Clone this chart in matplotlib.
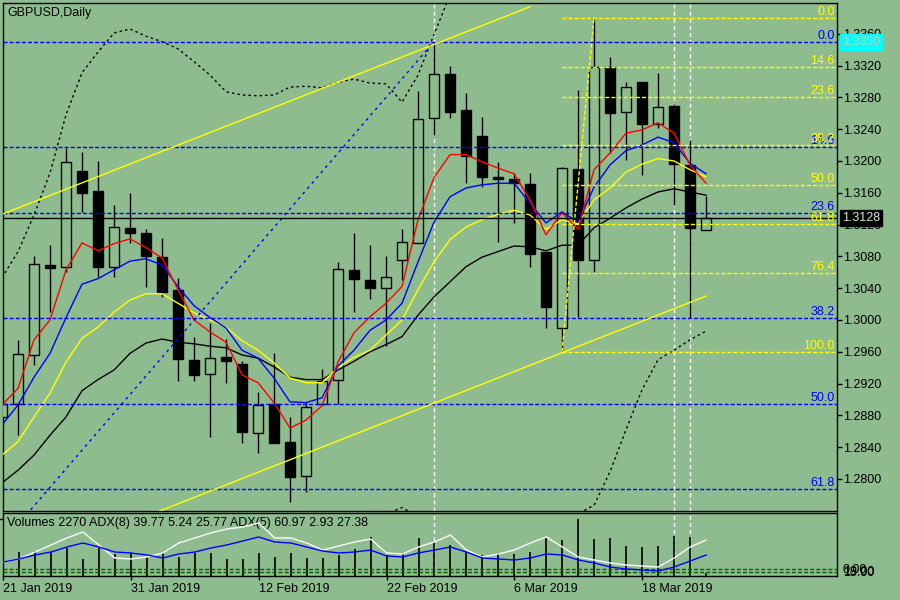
import numpy as np
import matplotlib
matplotlib.use('Agg')
import matplotlib.pyplot as plt

plt.rcParams['font.family'] = ['Liberation Sans', 'DejaVu Sans']
plt.rcParams['font.size'] = 9
plt.rcParams['lines.scale_dashes'] = False

bg = '#8fbc8f'

# daily candles, 21 Jan 2019 .. 22 Mar 2019
opens = [1.2878, 1.2894, 1.2956, 1.3069, 1.3067, 1.3187, 1.3162, 1.3067, 1.3116, 1.3109,
         1.3079, 1.3038, 1.2950, 1.2932, 1.2953, 1.2945, 1.2858, 1.2894, 1.2846, 1.2804,
         1.2894, 1.2925, 1.3063, 1.3050, 1.3040, 1.3075, 1.3097, 1.3254, 1.3309, 1.3264,
         1.3231, 1.3180, 1.3177, 1.3171, 1.3086, 1.2990, 1.3190, 1.3075, 1.3318, 1.3262,
         1.3299, 1.3247, 1.3269, 1.3195, 1.3113]
highs = [1.2902, 1.2975, 1.3081, 1.3094, 1.3216, 1.3211, 1.3200, 1.3145, 1.3160, 1.3114,
         1.3103, 1.3053, 1.2979, 1.2996, 1.2976, 1.2948, 1.2909, 1.2958, 1.2878, 1.2897,
         1.2938, 1.3073, 1.3109, 1.3094, 1.3081, 1.3114, 1.3288, 1.3350, 1.3320, 1.3286,
         1.3255, 1.3199, 1.3185, 1.3185, 1.3086, 1.3192, 1.3289, 1.3380, 1.3331, 1.3299,
         1.3299, 1.3311, 1.3272, 1.3226, 1.3156]
lows = [1.2862, 1.2855, 1.2943, 1.3010, 1.3060, 1.3136, 1.3054, 1.3054, 1.3097, 1.3042,
        1.3029, 1.2923, 1.2923, 1.2853, 1.2921, 1.2845, 1.2833, 1.2845, 1.2771, 1.2784,
        1.2894, 1.2894, 1.3010, 1.3026, 1.2967, 1.3050, 1.3097, 1.3233, 1.3254, 1.3172,
        1.3167, 1.3098, 1.3122, 1.3067, 1.2990, 1.2960, 1.3004, 1.3060, 1.3210, 1.3201,
        1.3182, 1.3242, 1.3145, 1.3003, 1.3113]
closes = [1.2894, 1.2957, 1.3070, 1.3065, 1.3199, 1.3160, 1.3067, 1.3117, 1.3109, 1.3081,
          1.3035, 1.2951, 1.2931, 1.2952, 1.2948, 1.2859, 1.2893, 1.2845, 1.2802, 1.2891,
          1.2923, 1.3064, 1.3052, 1.3040, 1.3054, 1.3098, 1.3253, 1.3309, 1.3262, 1.3206,
          1.3180, 1.3177, 1.3172, 1.3083, 1.3016, 1.3191, 1.3075, 1.3318, 1.3260, 1.3293,
          1.3247, 1.3268, 1.3196, 1.3116, 1.3128]

# moving averages
ma_red = [1.2893, 1.2914, 1.2975, 1.3000, 1.3063, 1.3097, 1.3087, 1.3096, 1.3102, 1.3091,
          1.3078, 1.3038, 1.3000, 1.2985, 1.2972, 1.2931, 1.2921, 1.2896, 1.2864, 1.2874,
          1.2892, 1.2947, 1.2984, 1.3004, 1.3021, 1.3042, 1.3126, 1.3179, 1.3208, 1.3208,
          1.3199, 1.3191, 1.3184, 1.3151, 1.3107, 1.3135, 1.3114, 1.3189, 1.3210, 1.3235,
          1.3239, 1.3248, 1.3235, 1.3195, 1.3172]
ma_blue = [1.2868, 1.2893, 1.2928, 1.2958, 1.3003, 1.3045, 1.3052, 1.3063, 1.3074, 1.3077,
           1.3069, 1.3042, 1.3018, 1.3003, 1.2990, 1.2962, 1.2952, 1.2927, 1.2897, 1.2896,
           1.2902, 1.2942, 1.2962, 1.2987, 1.3000, 1.3021, 1.3073, 1.3123, 1.3155, 1.3166,
           1.3170, 1.3172, 1.3172, 1.3147, 1.3122, 1.3136, 1.3123, 1.3167, 1.3195, 1.3213,
           1.3220, 1.3230, 1.3223, 1.3197, 1.3184]
ma_yellow = [1.2830, 1.2847, 1.2878, 1.2908, 1.2947, 1.2977, 1.2991, 1.3010, 1.3025, 1.3033,
             1.3033, 1.3021, 1.3009, 1.3000, 1.2991, 1.2974, 1.2962, 1.2946, 1.2927, 1.2921,
             1.2921, 1.2940, 1.2953, 1.2962, 1.2981, 1.3000, 1.3038, 1.3073, 1.3101, 1.3117,
             1.3126, 1.3133, 1.3138, 1.3132, 1.3114, 1.3126, 1.3121, 1.3151, 1.3166, 1.3186,
             1.3196, 1.3203, 1.3200, 1.3189, 1.3180]
ma_black = [1.2795, 1.2811, 1.2830, 1.2855, 1.2878, 1.2911, 1.2925, 1.2937, 1.2958, 1.2971,
            1.2976, 1.2972, 1.2970, 1.2967, 1.2965, 1.2956, 1.2952, 1.2941, 1.2928, 1.2925,
            1.2925, 1.2937, 1.2948, 1.2960, 1.2969, 1.2979, 1.3006, 1.3029, 1.3048, 1.3067,
            1.3079, 1.3086, 1.3093, 1.3092, 1.3087, 1.3094, 1.3094, 1.3116, 1.3128, 1.3141,
            1.3152, 1.3161, 1.3165, 1.3161, 1.3157]

# bollinger bands (visible parts)
bb_upper = [1.3053, 1.3086, 1.3132, 1.3185, 1.3258, 1.3311, 1.3337, 1.3361, 1.3366, 1.3357,
            1.3350, 1.3341, 1.3325, 1.3308, 1.3287, 1.3283, 1.3282, 1.3283, 1.3293, 1.3294,
            1.3292, 1.3299, 1.3303, 1.3298, 1.3297, 1.3274, 1.3308, 1.3359, 1.3409]
bb_lower_start = 22
bb_lower = [1.2740, 1.2748, 1.2756, 1.2764, 1.2753, 1.2742, 1.2730, 1.2720, 1.2715, 1.2712,
            1.2712, 1.2715, 1.2725, 1.2746, 1.2756, 1.2767, 1.2809, 1.2862, 1.2912, 1.2950,
            1.2962, 1.2975, 1.2986]

# volume panel
volumes = [16000, 17600, 18400, 17600, 20600, 12500, 20600, 16200, 16900, 14000,
           16900, 14000, 16900, 16900, 12500, 12500, 16900, 14000, 16900, 13200,
           13200, 15400, 19800, 28600, 15400, 16900, 27900, 25000, 22800, 17600,
           15400, 16900, 16200, 17600, 28600, 26400, 41868, 27200, 27900, 22000,
           21300, 22000, 29400, 28600, 2270]
adx_white = [23.7, 28.8, 40.6, 52.5, 64.4, 74.5, 52.5, 30.5, 28.8, 32.2,
             39.0, 55.9, 64.4, 72.8, 79.6, 83.0, 89.8, 64.4, 64.4, 55.9,
             44.0, 50.8, 57.6, 62.7, 39.0, 37.3, 49.1, 57.6, 69.4, 44.0,
             32.2, 37.3, 44.0, 55.9, 66.1, 49.1, 32.2, 27.1, 22.0, 18.6,
             16.9, 15.2, 30.5, 49.1, 61.0]
adx_blue = [23.7, 28.8, 35.6, 40.6, 49.1, 55.9, 49.1, 40.6, 39.0, 35.6,
            30.5, 37.3, 40.6, 47.4, 52.5, 59.3, 66.1, 57.6, 55.9, 49.1,
            42.3, 39.0, 40.6, 44.0, 33.9, 32.2, 39.0, 44.0, 49.1, 40.6,
            30.5, 28.8, 27.1, 30.5, 37.3, 35.6, 27.1, 22.0, 15.2, 11.9,
            10.2, 8.5, 15.2, 25.4, 35.6]
adx_levels = [11.9, 6.8]

# drawn objects
fib_blue_high, fib_blue_low = 1.3350, 1.2439
fib_blue_pts = ([-12, 27], [fib_blue_low, fib_blue_high])
fib_blue_levels = [0.0, 14.6, 23.6, 38.2, 50.0, 61.8]
fib_yel_high, fib_yel_low = 1.3380, 1.2960
fib_yel_pts = ([35, 37], [fib_yel_low, fib_yel_high])
fib_yel_levels = [0.0, 14.6, 23.6, 38.2, 50.0, 61.8, 76.4, 100.0]
chan_upper = ([-1, 33], [1.3125, 1.3394])
chan_lower = ([8, 44], [1.2745, 1.3030])
vlines_at = [27, 42, 43]
bid = 1.3128
hline_price = 1.3350

price_ticks = [1.2800, 1.2840, 1.2880, 1.2920, 1.2960, 1.3000, 1.3040, 1.3080,
               1.3120, 1.3160, 1.3200, 1.3240, 1.3280, 1.3320, 1.3360]
date_idx = [0, 8, 16, 24, 32, 40]
date_labels = ['21 Jan 2019', '31 Jan 2019', '12 Feb 2019', '22 Feb 2019',
               '6 Mar 2019', '18 Mar 2019']

x = np.arange(len(closes))
o = np.array(opens); c = np.array(closes)

fig = plt.figure(figsize=(9, 6), dpi=100, facecolor=bg)
ax = fig.add_axes([3/900, 1-511/600, 834/900, 508/600], facecolor=bg)
axv = fig.add_axes([3/900, 1-576/600, 834/900, 63/600], facecolor=bg)

xlim = (1/16, 835/16)

dash_fib = (2.9, 1.5)
# fib levels
for lv in fib_blue_levels:
    p = fib_blue_high - (fib_blue_high - fib_blue_low) * lv / 100
    ax.axhline(p, color='#0000ff', lw=1, dashes=dash_fib, zorder=5)
    ax.text(0.997, p, '%.1f' % lv, transform=ax.get_yaxis_transform(), ha='right',
            va='bottom', color='#0000ff', zorder=6)
for lv in fib_yel_levels:
    p = fib_yel_high - (fib_yel_high - fib_yel_low) * lv / 100
    ax.plot([fib_yel_pts[0][0], xlim[1]], [p, p], color='#ffff00', lw=1,
            dashes=dash_fib, zorder=5)
    ax.text(0.997, p, '%.1f' % lv, transform=ax.get_yaxis_transform(), ha='right',
            va='bottom', color='#ffff00', zorder=6)
ax.plot(*fib_blue_pts, color='#0000ff', lw=1, dashes=(2, 3), zorder=5)
ax.plot(*fib_yel_pts, color='#ffff00', lw=1, dashes=dash_fib, zorder=5)
ax.plot(*chan_upper, color='#ffff00', lw=1, zorder=5)
ax.plot(*chan_lower, color='#ffff00', lw=1, zorder=5)

for v in vlines_at:
    ax.axvline(v, color='white', lw=1, dashes=(2.9, 2.2), zorder=1)
    axv.axvline(v, color='white', lw=1, dashes=(2.9, 2.2), zorder=1)

ax.axhline(bid, color='black', lw=1, zorder=5)

# candles
ax.vlines(x, lows, highs, color='black', lw=1, zorder=2)
body_fill = [bg if cc >= oo else 'black' for oo, cc in zip(o, c)]
ax.bar(x, np.abs(c - o), bottom=np.minimum(o, c), width=0.62, color=body_fill,
       edgecolor='black', linewidth=1, zorder=3)

ax.plot(x, ma_black, color='black', lw=1, zorder=4)
ax.plot(x, ma_yellow, color='#ffff00', lw=1, zorder=4)
ax.plot(x, ma_blue, color='#0000ff', lw=1, zorder=4)
ax.plot(x, ma_red, color='#ff0000', lw=1, zorder=4)
ax.plot(x[:len(bb_upper)], bb_upper, color='black', lw=1, dashes=(1.8, 2.2), zorder=4)
ax.plot(x[bb_lower_start:bb_lower_start + len(bb_lower)], bb_lower, color='black',
        lw=1, dashes=(1.8, 2.2), zorder=4)

ax.set_xlim(*xlim)
ax.set_ylim(1.27597, 1.33987)
ax.set_xticks([])
ax.yaxis.tick_right()
ax.set_yticks(price_ticks)
ax.set_yticklabels(['%.4f' % t for t in price_ticks])
ax.tick_params(axis='y', direction='out', length=3.6, width=1, pad=0.8, colors='black')
for s in ax.spines.values():
    s.set_color('black'); s.set_linewidth(1)

ax.text(0.005, 0.993, 'GBPUSD,Daily', transform=ax.transAxes, ha='left', va='top')

ax.text(1.006, bid, '%.4f' % bid, transform=ax.get_yaxis_transform(), ha='left',
        va='center', color='#d0e6d0', clip_on=False, zorder=10,
        bbox=dict(facecolor='black', edgecolor='black', boxstyle='square,pad=0.15'))
ax.text(1.006, hline_price, '%.4f' % hline_price, transform=ax.get_yaxis_transform(),
        ha='left', va='center', color='#a8d8bc', clip_on=False, zorder=10,
        bbox=dict(facecolor='#00ffff', edgecolor='#00ffff', boxstyle='square,pad=0.15'))

# volume panel
axv.vlines(x, 0, volumes, color='black', lw=1.2, zorder=3)
axv.set_xlim(*xlim)
axv.set_ylim(0, 46274)
axv.yaxis.tick_right()
axv.set_yticks([41868])
axv.set_yticklabels(['41868'])
axv.tick_params(axis='y', direction='out', length=3.6, width=1, pad=0.8)
axv.set_xticks(date_idx)
axv.set_xticklabels(date_labels, ha='left')
axv.tick_params(axis='x', direction='out', length=3, width=1, pad=2)
for s in axv.spines.values():
    s.set_color('black'); s.set_linewidth(1)

ada = axv.twinx()
ada.set_ylim(0, 106.7)
ada.set_yticks([])
for s in ada.spines.values():
    s.set_visible(False)
for lv in adx_levels:
    ada.axhline(lv, color='#006400', lw=1, dashes=dash_fib, zorder=1)
ada.plot(x, adx_white, color='white', lw=1, zorder=4)
ada.plot(x, adx_blue, color='#0000ff', lw=1, zorder=4)
for lbl, yy in zip(['0.00', '19.00', '15.00'], [0.10, 0.07, 0.04]):
    axv.text(1.007, yy, lbl, transform=axv.transAxes, ha='left', va='center',
             clip_on=False)

axv.text(0.005, 0.94, 'Volumes %d ADX(8) 39.77 5.24 25.77 ADX(5) 60.97 2.93 27.38'
         % volumes[-1], transform=axv.transAxes, ha='left', va='top', zorder=6)

fig.savefig('out.png', dpi=100, facecolor=bg)
